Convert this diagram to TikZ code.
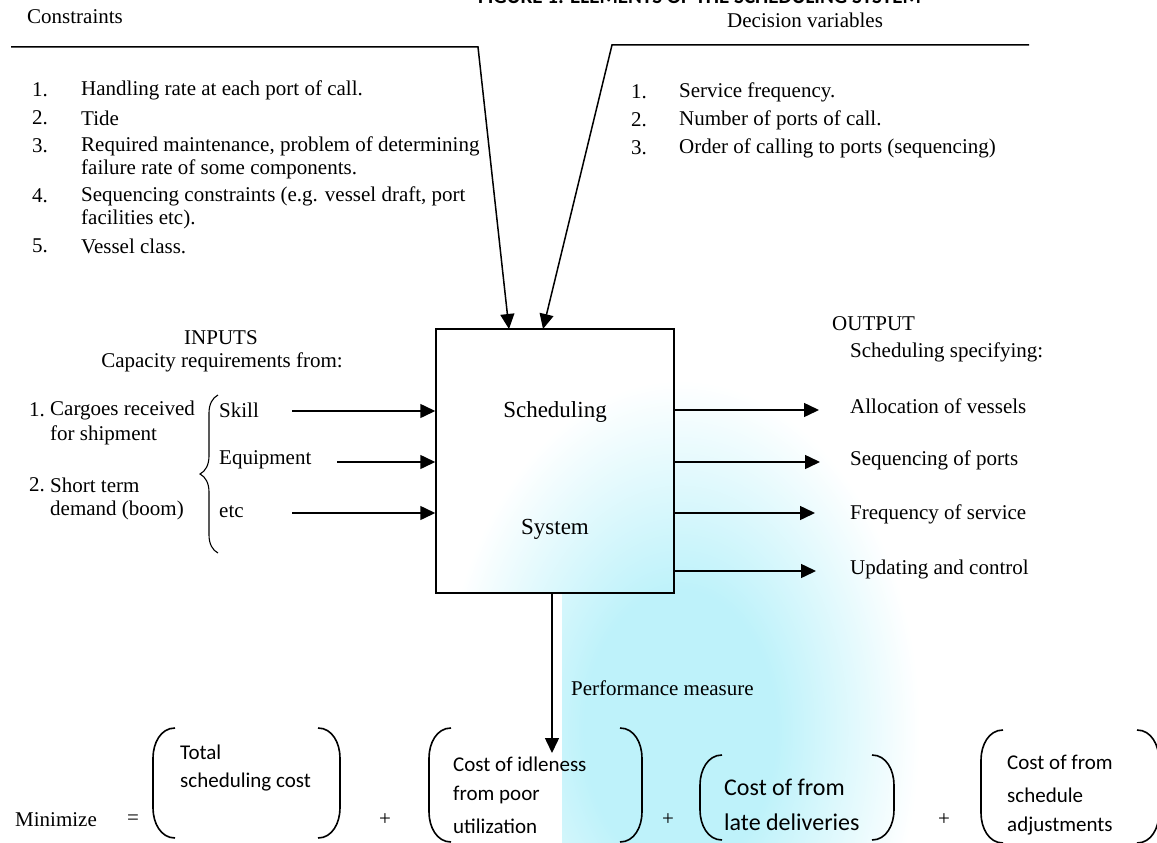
\documentclass[tikz,border=0pt]{standalone}
\usepackage{fontspec}
\setmainfont{Liberation Serif}
\newfontfamily\calfont{Carlito}
\usetikzlibrary{arrows.meta,decorations.pathreplacing}
\definecolor{wmark}{RGB}{190,242,250}
\pgfdeclareradialshading{wmshade}{\pgfpointorigin}{color(0bp)=(wmark); color(10bp)=(wmark); color(25bp)=(white); color(50bp)=(white)}
\newcommand\myLparen[3]{\draw[paren] (#1+22,#2) to[out=180,in=90] (#1,#2+30) -- (#1,#3-30) to[out=-90,in=180] (#1+22,#3);}
\newcommand\myRparen[3]{\draw[paren] (#1,#2) to[out=0,in=90] (#1+22,#2+30) -- (#1+22,#3-30) to[out=-90,in=0] (#1,#3);}
\begin{document}
\begin{tikzpicture}[x=1pt,y=-1pt,
  txt/.style={font=\fontsize{21}{25}\selectfont, inner sep=0pt, anchor=west},
  ctxt/.style={font=\calfont\fontsize{21}{25}\selectfont, inner sep=0pt, anchor=west},
  ln/.style={line width=1.5pt},
  arr/.style={line width=1.5pt, -{Triangle[length=15pt,width=14pt]}},
  paren/.style={line width=1.6pt}]
\useasboundingbox (0,0) rectangle (1157,843);
% watermark
\begin{scope}
\clip (0,0) -- (1157,0) -- (1157,843) -- (562,843) -- (562,594) -- (0,594) -- cycle;
\shade[shading=wmshade] (680,730) ellipse [x radius=240pt, y radius=350pt];
\end{scope}
% title (cut at top)
\node[font=\calfont\bfseries\fontsize{21}{25}\selectfont, inner sep=0pt, anchor=base west] (title) at (478,4) {FIGURE 1: ELEMENTS OF THE SCHEDULING SYSTEM};
% headings
\node[txt] (cons) at (27,17) {Constraints};
\node[txt] (dec) at (727,20) {Decision variables};
\coordinate (c0) at (11,47);
\coordinate (c1) at (478,47);
\coordinate (d0) at (1029,45);
\coordinate (d1) at (612,45);
\node[draw, ln, minimum width=238pt, minimum height=264pt, inner sep=0pt] (sys) at (555,461) {};
\coordinate (t1) at (509,329);
\coordinate (t2) at (543,329);
\draw[arr] (c0) -- (c1) -- (t1);
\draw[arr] (d0) -- (d1) -- (t2);
% constraint items
\node[txt] (cn1) at (32,90) {1.};  \node[txt] (ct1) at (81,90) {Handling rate at each port of call.};
\node[txt] (cn2) at (32,118) {2.}; \node[txt] (ct2) at (81,118) {Tide};
\node[txt] (cn3) at (32,146) {3.}; \node[txt] (ct3) at (81,146) {Required maintenance, problem of determining};
\node[txt] (ct3b) at (81,169) {failure rate of some components.};
\node[txt] (cn4) at (32,196) {4.}; \node[txt] (ct4) at (81,196) {Sequencing constraints (e.g. vessel draft, port};
\node[txt] (ct4b) at (81,219) {facilities etc).};
\node[txt] (cn5) at (32,246) {5.}; \node[txt] (ct5) at (81,246) {Vessel class.};
% decision items
\node[txt] (dn1) at (631,92) {1.}; \node[txt] (dt1) at (679,92) {Service frequency.};
\node[txt] (dn2) at (631,120) {2.}; \node[txt] (dt2) at (679,120) {Number of ports of call.};
\node[txt] (dn3) at (631,148) {3.}; \node[txt] (dt3) at (679,148) {Order of calling to ports (sequencing)};
% system text
\node[font=\fontsize{23}{27}\selectfont, inner sep=0pt] (sch) at (555,412) {Scheduling};
\node[font=\fontsize{23}{27}\selectfont, inner sep=0pt] (sysl) at (555,529) {System};
% inputs
\node[txt, anchor=center] (inp) at (221,338) {INPUTS};
\node[txt, anchor=center] (cap) at (222,362) {Capacity requirements from:};
\node[txt] (in1) at (29,410) {1.}; \node[txt] (in1t) at (50,410) {Cargoes received};
\node[txt] (in1b) at (50,435) {for shipment};
\node[txt] (in2) at (29,485) {2.}; \node[txt] (in2t) at (50,485) {Short term};
\node[txt] (in2b) at (50,510) {demand (boom)};
\draw[line width=1.1pt, decorate, decoration={brace, amplitude=18pt}] (218,553) -- (218,395);
\node[txt] (skill) at (219,410) {Skill};
\node[txt] (equip) at (219,460) {Equipment};
\node[txt] (etc) at (219,512) {etc};
\coordinate (s1) at (292,411);
\coordinate (s2) at (337,462);
\coordinate (s3) at (292,513);
\draw[arr] (s1) -- (s1 -| sys.west);
\draw[arr] (s2) -- (s2 -| sys.west);
\draw[arr] (s3) -- (s3 -| sys.west);
% outputs
\node[txt] (out) at (832,324) {OUTPUT};
\node[txt] (spec) at (850,352) {Scheduling specifying:};
\coordinate (o1) at (819,410);
\coordinate (o2) at (820,462);
\coordinate (o3) at (815,513);
\coordinate (o4) at (816,571);
\draw[arr] (sys.east |- o1) -- (o1);
\draw[arr] (sys.east |- o2) -- (o2);
\draw[arr] (sys.east |- o3) -- (o3);
\draw[arr] (sys.east |- o4) -- (o4);
\node[txt] (oa) at (850,406) {Allocation of vessels};
\node[txt] (ob) at (850,460) {Sequencing of ports};
\node[txt] (oc) at (850,514) {Frequency of service};
\node[txt] (od) at (850,569) {Updating and control};
% performance
\coordinate (pm) at (552,753);
\draw[arr] (pm |- sys.south) -- (pm);
\node[txt] (perf) at (571,688) {Performance measure};
% bottom equation
\node[txt] (mini) at (15,820) {Minimize};
\node[txt, anchor=center] (eq) at (133,820) {=};
\myLparen{153}{728}{838}
\myRparen{318}{728}{838}
\node[ctxt] (b1a) at (180,752) {Total};
\node[ctxt] (b1b) at (180,782) {scheduling cost};
\node[txt, anchor=center] (p1) at (385,820) {+};
\myLparen{429}{728}{842}
\myRparen{620}{728}{842}
\node[ctxt] (b2a) at (453,764) {Cost of idleness};
\node[ctxt] (b2b) at (453,795) {from poor};
\node[ctxt] (b2c) at (453,826) {utilization};
\node[txt, anchor=center] (p2) at (668,820) {+};
\myLparen{700}{755}{840}
\myRparen{872}{755}{840}
\node[ctxt, font=\calfont\fontsize{24}{28}\selectfont] (b3a) at (724,787) {Cost of from};
\node[ctxt, font=\calfont\fontsize{24}{28}\selectfont] (b3b) at (724,822) {late deliveries};
\node[txt, anchor=center] (p3) at (944,820) {+};
\myLparen{981}{730}{843}
\myRparen{1137}{730}{843}
\node[ctxt] (b4a) at (1007,762) {Cost of from};
\node[ctxt] (b4b) at (1007,795) {schedule};
\node[ctxt] (b4c) at (1007,826) {adjustments};
\end{tikzpicture}
\end{document}
